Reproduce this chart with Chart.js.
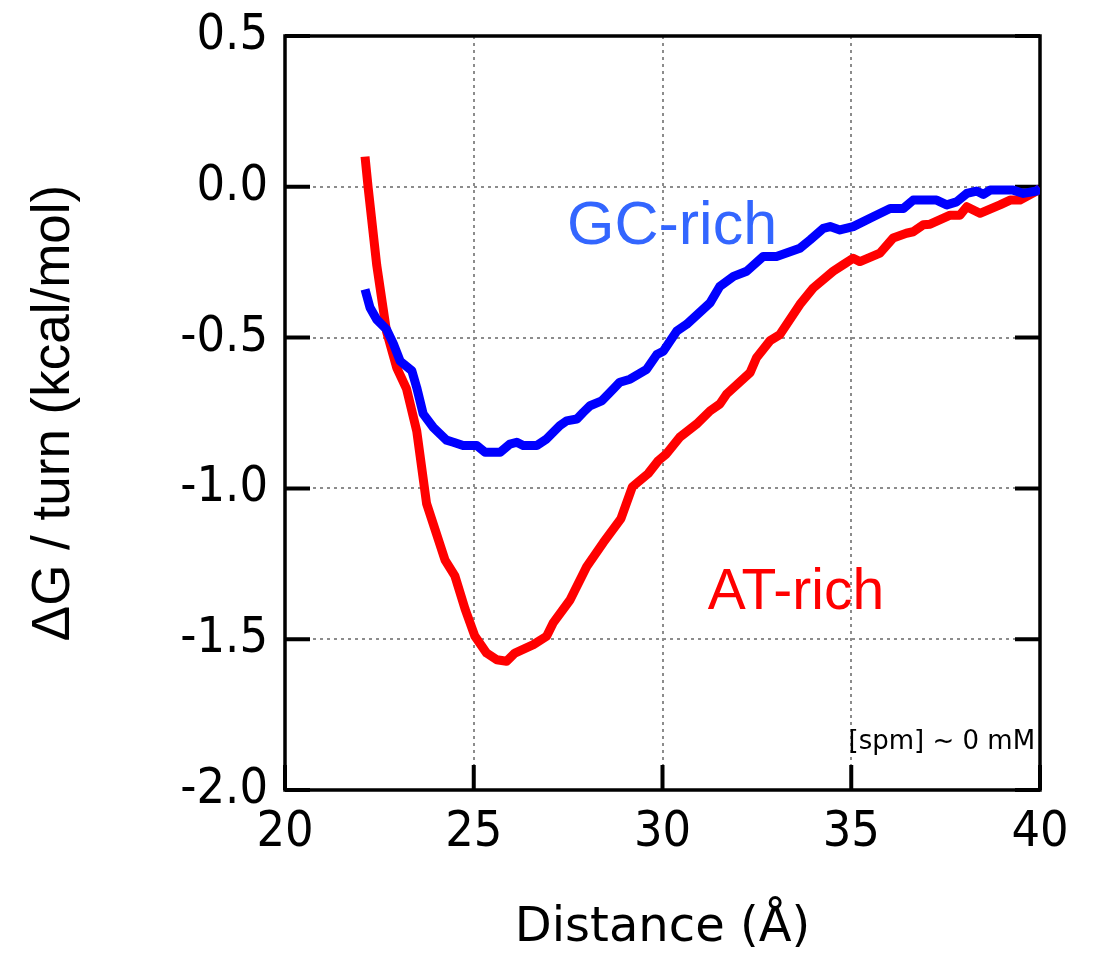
<!DOCTYPE html>
<html>
<head>
<meta charset="utf-8">
<script src="https://cdn.jsdelivr.net/npm/chart.js@4/dist/chart.umd.min.js"></script>
<style>
  html, body { margin: 0; padding: 0; background: #fff; }
  #wrap { width: 1095px; height: 955px; }
</style>
</head>
<body>
<div id="wrap"><canvas id="c" width="1095" height="955"></canvas></div>
<script>
// ---- data ----
const gcX = [22.12, 22.25, 22.43, 22.69, 22.87, 23.05, 23.36, 23.49, 23.66, 23.93, 24.28, 24.46, 24.72, 25.08, 25.3, 25.7, 25.96, 26.14, 26.31, 26.67, 26.93, 27.28, 27.46, 27.73, 27.9, 28.08, 28.39, 28.7, 28.87, 29.14, 29.58, 29.85, 30.02, 30.38, 30.64, 31.26, 31.52, 31.88, 32.23, 32.67, 33.02, 33.64, 33.91, 34.26, 34.44, 34.7, 35.05, 35.58, 36.03, 36.38, 36.64, 37.26, 37.53, 37.79, 38.06, 38.32, 38.5, 38.68, 39.29, 39.56, 39.91, 40.0];
const gcY = [-0.34, -0.40, -0.44, -0.473, -0.52, -0.578, -0.61, -0.666, -0.753, -0.798, -0.84, -0.847, -0.858, -0.858, -0.88, -0.88, -0.853, -0.847, -0.858, -0.858, -0.836, -0.792, -0.776, -0.77, -0.748, -0.726, -0.71, -0.67, -0.648, -0.638, -0.605, -0.556, -0.545, -0.478, -0.456, -0.385, -0.33, -0.297, -0.28, -0.231, -0.231, -0.204, -0.176, -0.138, -0.132, -0.143, -0.132, -0.099, -0.072, -0.072, -0.044, -0.044, -0.06, -0.05, -0.022, -0.014, -0.025, -0.011, -0.011, -0.022, -0.014, -0.005];

const atX = [22.12, 22.2, 22.43, 22.69, 22.96, 23.22, 23.49, 23.75, 24.24, 24.5, 24.77, 25.03, 25.34, 25.61, 25.87, 26.09, 26.58, 26.93, 27.1, 27.55, 27.99, 28.43, 28.9, 29.2, 29.62, 29.89, 30.1, 30.46, 30.9, 31.26, 31.52, 31.7, 32.32, 32.49, 32.85, 33.11, 33.64, 33.99, 34.52, 34.79, 35.05, 35.23, 35.76, 36.11, 36.46, 36.64, 36.91, 37.09, 37.62, 37.88, 38.06, 38.41, 38.94, 39.21, 39.47, 39.91, 40.0];
const atY = [0.10, 0.00, -0.26, -0.48, -0.60, -0.67, -0.81, -1.05, -1.238, -1.29, -1.40, -1.49, -1.546, -1.568, -1.573, -1.546, -1.518, -1.49, -1.447, -1.37, -1.26, -1.18, -1.10, -0.995, -0.951, -0.908, -0.886, -0.83, -0.787, -0.743, -0.72, -0.687, -0.616, -0.567, -0.51, -0.49, -0.39, -0.336, -0.28, -0.258, -0.237, -0.248, -0.22, -0.17, -0.154, -0.149, -0.126, -0.124, -0.094, -0.094, -0.066, -0.088, -0.06, -0.044, -0.044, -0.014, -0.005];

const xTicks = [20, 25, 30, 35, 40];
const yTicks = [0.5, 0.0, -0.5, -1.0, -1.5, -2.0];
const seriesNames = ['GC-rich', 'AT-rich'];
const noteText = '[spm] ~ 0 mM';
const xTitle = 'Distance (Å)';
const yTitle = 'ΔG / turn (kcal/mol)';

// ---- build ----
const toPts = (xs, ys) => xs.map((x, i) => ({ x: x, y: ys[i] }));
const GC_COLOR = '#0000ff', AT_COLOR = '#ff0000';
const TICK_FONT = "'DejaVu Sans Condensed', 'DejaVu Sans', sans-serif";
const PLAIN_FONT = "'DejaVu Sans', sans-serif";
const LABEL_FONT = "'Liberation Sans', Arial, sans-serif";

const framePlugin = {
  id: 'frame',
  beforeDatasetsDraw(chart) {
    const { ctx, chartArea: a, scales } = chart;
    ctx.save();
    ctx.strokeStyle = '#000';
    ctx.lineWidth = 3.5;
    ctx.strokeRect(a.left, a.top, a.right - a.left, a.bottom - a.top);
    const tl = 25;
    ctx.lineWidth = 4;
    ctx.beginPath();
    yTicks.forEach(v => {
      const p = scales.y.getPixelForValue(v);
      ctx.moveTo(a.left, p); ctx.lineTo(a.left + tl, p);
      ctx.moveTo(a.right, p); ctx.lineTo(a.right - tl, p);
    });
    xTicks.forEach(v => {
      const p = scales.x.getPixelForValue(v);
      ctx.moveTo(p, a.bottom); ctx.lineTo(p, a.bottom - tl);
    });
    ctx.stroke();
    ctx.restore();
  },
  afterDatasetsDraw(chart) {
    const { ctx, scales } = chart;
    ctx.save();
    ctx.textBaseline = 'alphabetic';
    ctx.textAlign = 'left';
    ctx.fillStyle = '#3366ff';
    ctx.font = "61px " + LABEL_FONT;
    ctx.fillText(seriesNames[0], scales.x.getPixelForValue(27.47), scales.y.getPixelForValue(-0.19));
    ctx.fillStyle = '#ff0000';
    ctx.font = "57px " + LABEL_FONT;
    ctx.fillText(seriesNames[1], scales.x.getPixelForValue(31.2), scales.y.getPixelForValue(-1.40));
    ctx.fillStyle = '#000';
    ctx.textAlign = 'right';
    ctx.font = "26px " + PLAIN_FONT;
    ctx.fillText(noteText, scales.x.getPixelForValue(39.87), scales.y.getPixelForValue(-1.865));
    ctx.restore();
  }
};

new Chart(document.getElementById('c'), {
  type: 'line',
  data: {
    datasets: [
      { label: seriesNames[0], data: toPts(gcX, gcY), borderColor: GC_COLOR, borderWidth: 9, pointRadius: 0, tension: 0, fill: false, borderJoinStyle: 'round' },
      { label: seriesNames[1], data: toPts(atX, atY), borderColor: AT_COLOR, borderWidth: 9, pointRadius: 0, tension: 0, fill: false, borderJoinStyle: 'round' }
    ]
  },
  options: {
    responsive: false,
    animation: false,
    devicePixelRatio: 1,
    layout: { padding: { top: 36, right: 55, left: 0, bottom: 0 } },
    plugins: { legend: { display: false }, tooltip: { enabled: false } },
    scales: {
      x: {
        type: 'linear', min: 20, max: 40,
        afterBuildTicks: s => { s.ticks = xTicks.map(v => ({ value: v })); },
        afterFit: s => { s.height = 165; s.paddingLeft = 0; s.paddingRight = 0; },
        ticks: { padding: 13, color: '#000', font: { family: TICK_FONT, size: 50 }, callback: v => String(v), maxRotation: 0 },
        grid: { color: '#8c8c8c', lineWidth: 2, drawTicks: false },
        border: { display: false, dash: [3, 4] },
        title: { display: true, text: xTitle, color: '#000', font: { family: PLAIN_FONT, size: 48, lineHeight: 1 }, padding: { top: 0, bottom: 2 } }
      },
      y: {
        type: 'linear', min: -2.0, max: 0.5,
        afterBuildTicks: s => { s.ticks = yTicks.map(v => ({ value: v })); },
        afterFit: s => { s.width = 285; s.paddingTop = 0; s.paddingBottom = 0; },
        ticks: { padding: 17, color: '#000', font: { family: TICK_FONT, size: 50 }, callback: v => v.toFixed(1) },
        grid: { color: '#8c8c8c', lineWidth: 2, drawTicks: false },
        border: { display: false, dash: [3, 4] },
        title: { display: true, text: yTitle, color: '#000', font: { family: LABEL_FONT, size: 53, lineHeight: 1 }, padding: { top: 28, bottom: 0 } }
      }
    }
  },
  plugins: [framePlugin]
});
</script>
</body>
</html>
